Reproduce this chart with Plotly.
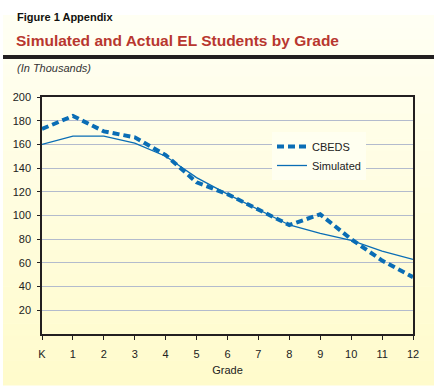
import plotly.graph_objects as go

grades = ["K", "1", "2", "3", "4", "5", "6", "7", "8", "9", "10", "11", "12"]
cbeds = [173, 184, 171, 166, 151, 128, 118, 105, 92, 101, 80, 62, 48]
simulated = [160, 167, 167, 161, 150, 132, 118, 105, 92, 85, 79, 70, 63]
y_ticks = [20, 40, 60, 80, 100, 120, 140, 160, 180, 200]

W, H = 439, 391
L, R, T, B = 42, 413, 97, 334

def px(x):
    return (x - L) / (R - L)

def py(y):
    return (B - y) / (B - T)

BLUE = "#0a6db5"
FONT = "Liberation Sans, Arial, sans-serif"

fig = go.Figure()
fig.add_trace(go.Scatter(x=grades, y=cbeds, name="CBEDS", mode="lines",
                         line=dict(color=BLUE, width=4, dash="7px,4px")))
fig.add_trace(go.Scatter(x=grades, y=simulated, name="Simulated", mode="lines",
                         line=dict(color=BLUE, width=1.3)))

shapes = []
# gradient panel background
top_c = (255, 255, 243)
bot_c = (255, 251, 204)
y0, y1 = 15, 385
n = 30
for i in range(n):
    t = i / (n - 1)
    c = tuple(round(top_c[k] + (bot_c[k] - top_c[k]) * t) for k in range(3))
    ya = y0 + (y1 - y0) * i / n
    yb = y0 + (y1 - y0) * (i + 1) / n + 0.5
    shapes.append(dict(type="rect", xref="paper", yref="paper", layer="below",
                       x0=px(3), x1=px(434), y0=py(yb), y1=py(ya),
                       fillcolor="rgb(%d,%d,%d)" % c, line=dict(width=0)))
# title bar
shapes.append(dict(type="line", xref="paper", yref="paper",
                   x0=px(3), x1=px(434), y0=py(57), y1=py(57),
                   line=dict(color="#231f20", width=4)))

annotations = [
    dict(text="<b>Figure 1 Appendix</b>", x=px(15), y=py(17), xref="paper", yref="paper",
         xanchor="left", yanchor="middle", showarrow=False,
         font=dict(family=FONT, size=11, color="#111")),
    dict(text="<b>Simulated and Actual EL Students by Grade</b>", x=px(14), y=py(40),
         xref="paper", yref="paper", xanchor="left", yanchor="middle", showarrow=False,
         font=dict(family=FONT, size=15.5, color="#b8372f")),
    dict(text="<i>(In Thousands)</i>", x=px(15), y=py(68), xref="paper", yref="paper",
         xanchor="left", yanchor="middle", showarrow=False,
         font=dict(family=FONT, size=11, color="#333")),
]

fig.update_layout(
    width=W, height=H,
    margin=dict(l=L, r=W - R, t=T, b=H - B, pad=0),
    paper_bgcolor="white",
    plot_bgcolor="rgba(0,0,0,0)",
    font=dict(family=FONT, size=11, color="#222"),
    showlegend=True,
    legend=dict(x=px(272), y=py(132), xanchor="left", yanchor="top",
                bgcolor="#fffff0", borderwidth=0,
                font=dict(family=FONT, size=11, color="#222"),
                itemwidth=30, tracegroupgap=0),
    shapes=shapes,
    annotations=annotations,
    xaxis=dict(
        type="category", range=[0, 12], tickvals=grades, ticktext=grades,
        showline=True, linecolor="#231f20", linewidth=1.5, mirror=True,
        ticks="outside", ticklen=4, tickcolor="#231f20", tickwidth=1.3,
        ticklabelstandoff=5,
        showgrid=False, zeroline=False,
        title=dict(text="Grade", font=dict(family=FONT, size=11, color="#222"), standoff=7),
        tickfont=dict(family=FONT, size=11, color="#222"),
    ),
    yaxis=dict(
        range=[0, 200], tickvals=y_ticks,
        showline=True, linecolor="#231f20", linewidth=1.5, mirror=True,
        ticks="outside", ticklen=3, tickcolor="#231f20", tickwidth=1.3,
        ticklabelstandoff=4,
        showgrid=True, gridcolor="#b3bbcd", gridwidth=1, zeroline=False,
        tickfont=dict(family=FONT, size=11, color="#222"),
    ),
)

fig.write_html("out.html", config={"displayModeBar": False},
               post_script="document.body.style.margin='0';document.body.style.padding='0';")
